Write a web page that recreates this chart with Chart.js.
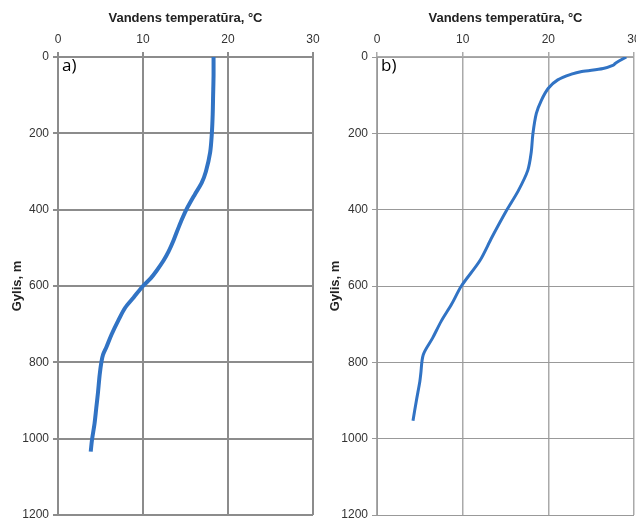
<!DOCTYPE html>
<html>
<head>
<meta charset="utf-8">
<script src="https://cdn.jsdelivr.net/npm/chart.js@4"></script>
<style>
  html, body { margin: 0; padding: 0; background: #fff; overflow: hidden; }
  canvas { position: absolute; top: 0; }
  #chartA { left: 0; }
  #chartB { left: 318px; }
</style>
</head>
<body>
<canvas id="chartA" width="324" height="522"></canvas>
<canvas id="chartB" width="318" height="522"></canvas>
<script>
// Panel a) - depth (m) vs water temperature (°C)
const depthA = [0, 50, 100, 150, 200, 250, 300, 330, 360, 400, 440, 480, 510, 534, 560, 580, 600, 630, 657, 690, 727, 760, 780, 800, 833, 880, 920, 960, 1003, 1034];
const tempA = [18.3, 18.3, 18.25, 18.2, 18.1, 17.9, 17.4, 16.9, 16.1, 15.1, 14.3, 13.6, 13.0, 12.4, 11.6, 10.9, 10.0, 8.9, 7.9, 7.1, 6.3, 5.7, 5.3, 5.1, 4.9, 4.7, 4.5, 4.3, 4.0, 3.85];

// Panel b)
const depthB = [0, 10, 17, 21, 30, 38, 45, 60, 82, 113, 148, 201, 250, 297, 350, 403, 473, 534, 600, 648, 692, 736, 780, 832, 850, 900, 953];
const tempB = [29.1, 28.3, 27.8, 27.6, 26.4, 23.9, 22.7, 21.1, 20.0, 19.2, 18.6, 18.2, 18.0, 17.6, 16.5, 15.1, 13.4, 12.0, 9.85, 8.7, 7.5, 6.5, 5.4, 5.1, 5.0, 4.6, 4.2];

const xTitle = 'Vandens temperatūra, °C';
const yTitle = 'Gylis, m';

// small label in the top-left corner of the plot
const panelLabel = {
  id: 'panelLabel',
  afterDraw(chart, args, opts) {
    const ctx = chart.ctx;
    const area = chart.chartArea;
    ctx.save();
    ctx.font = '17px "Open Sans"';
    ctx.fillStyle = '#000';
    ctx.textBaseline = 'top';
    ctx.fillText(opts.text, area.left + 4, area.top + 1);
    ctx.restore();
  }
};

function makeChart(id, temps, depths, label, cfg) {
  const points = temps.map((t, i) => ({ x: t, y: depths[i] }));
  return new Chart(document.getElementById(id), {
    type: 'scatter',
    data: {
      datasets: [{
        data: points,
        showLine: true,
        borderColor: '#3173c4',
        borderWidth: cfg.lineWidth,
        pointRadius: 0,
        tension: 0.3
      }]
    },
    plugins: [panelLabel],
    options: {
      responsive: false,
      animation: false,
      layout: { padding: { left: 0, right: cfg.padRight, top: 0, bottom: 7 } },
      plugins: {
        legend: { display: false },
        tooltip: { enabled: false },
        panelLabel: { text: label }
      },
      scales: {
        x: {
          type: 'linear',
          position: 'top',
          min: 0,
          max: 30,
          ticks: { stepSize: 10, color: '#333', padding: 5, font: { family: '"Liberation Sans"', size: 12 }, callback: v => String(v) },
          grid: { color: cfg.xGrid, lineWidth: cfg.xGridWidth, tickLength: 5 },
          border: { color: cfg.xGrid, width: cfg.xGridWidth },
          title: {
            display: true, text: xTitle, color: '#222',
            font: { family: '"Liberation Sans"', size: 13, weight: 'bold' },
            padding: { top: 11, bottom: 0 }
          },
          afterFit(scale) {
            scale.height = 57;
            scale.paddingLeft = 0;
            scale.paddingRight = 0;
          }
        },
        y: {
          type: 'linear',
          reverse: true,
          min: 0,
          max: 1200,
          ticks: { stepSize: 200, color: '#333', padding: 4, font: { family: '"Liberation Sans"', size: 12 }, callback: v => String(v) },
          grid: { color: cfg.yGrid, lineWidth: cfg.yGridWidth, tickLength: 5 },
          border: { color: cfg.yGrid, width: cfg.yGridWidth },
          title: {
            display: true, text: yTitle, color: '#222',
            font: { family: '"Liberation Sans"', size: 13, weight: 'bold' },
            padding: { top: 10, bottom: 0 }
          },
          afterFit(scale) {
            scale.width = cfg.yWidth;
            scale.paddingTop = 0;
            scale.paddingBottom = 0;
          }
        }
      }
    }
  });
}

makeChart('chartA', tempA, depthA, 'a)', {
  lineWidth: 4, padRight: 11, yWidth: 58,
  xGrid: '#8c8c8c', xGridWidth: 2, yGrid: '#8c8c8c', yGridWidth: 2
});
makeChart('chartB', tempB, depthB, 'b)', {
  lineWidth: 3, padRight: 2, yWidth: 59,
  xGrid: '#aaaaaa', xGridWidth: 1.5, yGrid: '#999999', yGridWidth: 1
});
</script>
</body>
</html>
